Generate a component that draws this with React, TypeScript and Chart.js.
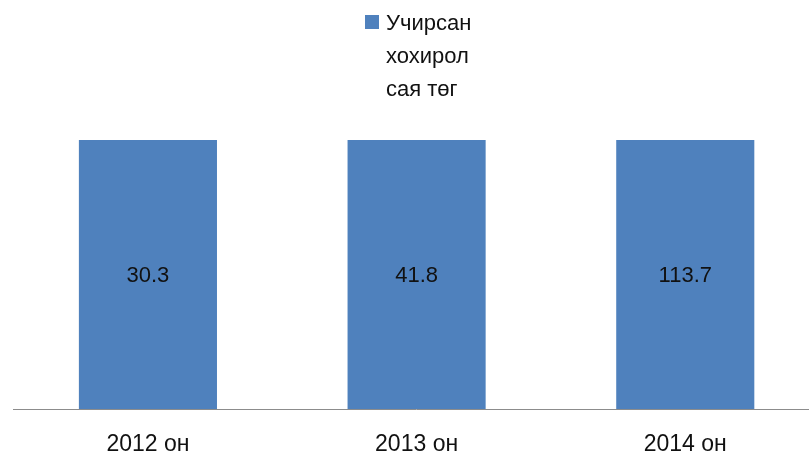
import React, { useEffect, useRef } from "react";
import { Chart, registerables } from "chart.js";

Chart.register(...registerables);

const categories = ["2012 он", "2013 он", "2014 он"];
const seriesValues = [30.3, 41.8, 113.7];
const seriesLabelLines = ["Учирсан", "хохирол", "сая төг"];
const seriesColor = "#4F81BD";

// 100% stacked column: each bar's share of its category's total
const categoryTotals = categories.map((_, i) => seriesValues[i]);
const seriesShare = seriesValues.map((v, i) => (v / categoryTotals[i]) * 100);

const FONT = "'Liberation Sans', Arial, sans-serif";

const valueLabelPlugin = {
  id: "valueLabels",
  afterDatasetsDraw(chart: any) {
    const ctx = chart.ctx;
    const meta = chart.getDatasetMeta(0);
    ctx.save();
    ctx.font = `22px ${FONT}`;
    ctx.fillStyle = "#111";
    ctx.textAlign = "center";
    ctx.textBaseline = "middle";
    meta.data.forEach((bar: any, i: number) => {
      const { x, y, base } = bar.getProps(["x", "y", "base"], true);
      ctx.fillText(String(seriesValues[i]), x, (y + base) / 2 + 1);
    });
    ctx.restore();
  },
};

const legendPlugin = {
  id: "customLegend",
  afterDraw(chart: any) {
    const ctx = chart.ctx;
    ctx.save();
    ctx.fillStyle = seriesColor;
    ctx.fillRect(365, 15, 14, 14);
    ctx.font = `22px ${FONT}`;
    ctx.fillStyle = "#111";
    ctx.textAlign = "left";
    ctx.textBaseline = "alphabetic";
    seriesLabelLines.forEach((line, i) => {
      ctx.fillText(line, 386, 30 + i * 33);
    });
    ctx.restore();
  },
};

export default function App() {
  const canvasRef = useRef<HTMLCanvasElement | null>(null);

  useEffect(() => {
    document.body.style.margin = "0";
    const chart = new Chart(canvasRef.current as HTMLCanvasElement, {
      type: "bar",
      data: {
        labels: categories,
        datasets: [
          {
            label: seriesLabelLines.join(" "),
            data: seriesShare,
            backgroundColor: seriesColor,
            borderWidth: 0,
            categoryPercentage: 1,
            barPercentage: 0.514,
          },
        ],
      },
      options: {
        animation: false,
        responsive: true,
        maintainAspectRatio: false,
        layout: { padding: { top: 140, left: 13.6, right: 2.4, bottom: 0 } },
        plugins: {
          legend: { display: false },
          tooltip: { enabled: false },
        },
        scales: {
          x: {
            grid: { display: false, drawTicks: false },
            border: { display: true, color: "#8c8c8c", width: 1 },
            ticks: {
              color: "#111",
              font: { family: FONT, size: 23 },
              padding: 22,
            },
            afterFit(scale: any) {
              scale.height = 46;
            },
          },
          y: {
            display: false,
            min: 0,
            max: 100,
            stacked: true,
          },
        },
      },
      plugins: [valueLabelPlugin, legendPlugin],
    });
    return () => chart.destroy();
  }, []);

  return (
    <div
      style={{
        position: "fixed",
        left: 0,
        top: 0,
        width: 809,
        height: 455,
        overflow: "hidden",
        background: "#fff",
      }}
    >
      <div style={{ position: "relative", width: 822, height: 455 }}>
        <canvas ref={canvasRef} />
      </div>
    </div>
  );
}
